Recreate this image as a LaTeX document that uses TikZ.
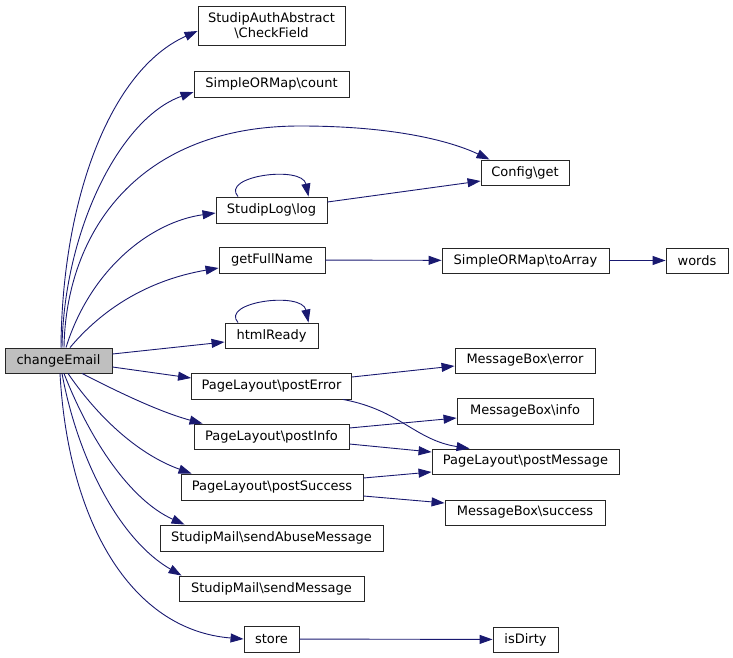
\documentclass[tikz,border=0pt]{standalone}
\usepackage{fontspec}
\setmainfont{DejaVu Sans}
\usetikzlibrary{arrows.meta}
\definecolor{edgeblue}{HTML}{191970}
\begin{document}
\begin{tikzpicture}[x=1pt,y=-1pt,
  box/.style={draw=black!85, line width=0.9pt, fill=white, inner sep=0pt,
    font=\fontsize{13}{15}\selectfont, align=center},
  edge/.style={draw=edgeblue, line width=0.9pt, -{Triangle[length=13pt,width=9pt]}}]
\useasboundingbox (0,0) rectangle (733,658);
% nodes
\node[box, fill=black!25, minimum width=107, minimum height=25] (ce) at (58.5,360.5) {changeEmail};
\node[box, minimum width=147, minimum height=39] (cf) at (271.5,25.5) {StudipAuthAbstract\\\textbackslash CheckField};
\node[box, minimum width=155, minimum height=26] (cnt) at (271.5,84) {SimpleORMap\textbackslash count};
\node[box, minimum width=88, minimum height=25] (cfg) at (525,172.5) {Config\textbackslash get};
\node[box, minimum width=111, minimum height=26] (sl) at (271.5,210) {StudipLog\textbackslash log};
\node[box, minimum width=106, minimum height=26] (gf) at (272,260) {getFullName};
\node[box, minimum width=93, minimum height=25] (hr) at (271.5,335.5) {htmlReady};
\node[box, minimum width=160, minimum height=26] (pe) at (271.5,386) {PageLayout\textbackslash postError};
\node[box, minimum width=155, minimum height=25] (pi) at (271.5,436.5) {PageLayout\textbackslash postInfo};
\node[box, minimum width=182, minimum height=26] (ps) at (272,487) {PageLayout\textbackslash postSuccess};
\node[box, minimum width=223, minimum height=26] (sa) at (271.5,538) {StudipMail\textbackslash sendAbuseMessage};
\node[box, minimum width=185, minimum height=25] (sm) at (271.5,588.5) {StudipMail\textbackslash sendMessage};
\node[box, minimum width=55, minimum height=26] (st) at (271.5,639) {store};
\node[box, minimum width=167, minimum height=25] (ta) at (525.5,260.5) {SimpleORMap\textbackslash toArray};
\node[box, minimum width=62, minimum height=25] (wd) at (697,260.5) {words};
\node[box, minimum width=140, minimum height=25] (mbe) at (525,360.5) {MessageBox\textbackslash error};
\node[box, minimum width=136, minimum height=26] (mbi) at (525,411) {MessageBox\textbackslash info};
\node[box, minimum width=187, minimum height=25] (pm) at (525.5,461.5) {PageLayout\textbackslash postMessage};
\node[box, minimum width=160, minimum height=25] (mbs) at (525,512.5) {MessageBox\textbackslash success};
\node[box, minimum width=65, minimum height=25] (isd) at (525.5,639.5) {isDirty};
% edges from changeEmail
\draw[edge] ([xshift=2.5]ce.north) .. controls (62,200) and (110,70) .. ([yshift=-5.5]cf.west);
\draw[edge] ([xshift=3.5]ce.north) .. controls (64,230) and (120,118) .. ([yshift=-8]cnt.west);
\draw[edge] ([xshift=5.5]ce.north) .. controls (66,230) and (140,126) .. (300,126)
   .. controls (400,126) and (455,143) .. ([xshift=9]cfg.north west);
\draw[edge] ([xshift=7.5]ce.north) .. controls (90,270) and (150,222) .. ([yshift=-3]sl.west);
\draw[edge] ([xshift=11.5]ce.north) .. controls (110,300) and (160,278) .. ([yshift=-8]gf.west);
\draw[edge] ([yshift=6.5]ce.east) -- ([yshift=-6.5]hr.west);
\draw[edge] ([yshift=-6.5]ce.east) -- ([yshift=8]pe.west);
\draw[edge] ([xshift=23.5]ce.south) .. controls (120,393) and (160,412) .. ([xshift=9]pi.north west);
\draw[edge] ([xshift=9.5]ce.south) .. controls (100,420) and (140,455) .. ([xshift=11]ps.north west);
\draw[edge] ([xshift=5.5]ce.south) .. controls (90,440) and (130,500) .. ([xshift=25]sa.north west);
\draw[edge] ([xshift=3.5]ce.south) .. controls (78,460) and (120,540) .. ([xshift=3]sm.north west);
\draw[edge] ([xshift=1.5]ce.south) .. controls (68,520) and (130,630) .. (st.west);
% self loops
\draw[edge] ([xshift=-33.5]sl.north) .. controls (220,176) and (302,165) .. ([xshift=37]sl.north);
\draw[edge] ([xshift=-33.5]hr.north) .. controls (220,302) and (302,291) .. ([xshift=37]hr.north);
% secondary edges
\draw[edge] ([yshift=8]sl.east) -- ([yshift=-8.5]cfg.west);
\draw[edge] (gf) -- (ta);
\draw[edge] (ta) -- (wd);
\draw[edge] ([yshift=9]pe.east) -- ([yshift=-5.5]mbe.west);
\draw[edge] ([xshift=-9]pe.south east) .. controls (400,410) and (415,440) .. ([xshift=38]pm.north west);
\draw[edge] ([yshift=8.5]pi.east) -- ([yshift=-7]mbi.west);
\draw[edge] ([yshift=-7.5]pi.east) -- ([yshift=9.5]pm.west);
\draw[edge] ([yshift=9]ps.east) -- ([yshift=-10.5]pm.west);
\draw[edge] ([yshift=-9]ps.east) -- ([yshift=9.5]mbs.west);
\draw[edge] (st) -- (isd);
\end{tikzpicture}
\end{document}
